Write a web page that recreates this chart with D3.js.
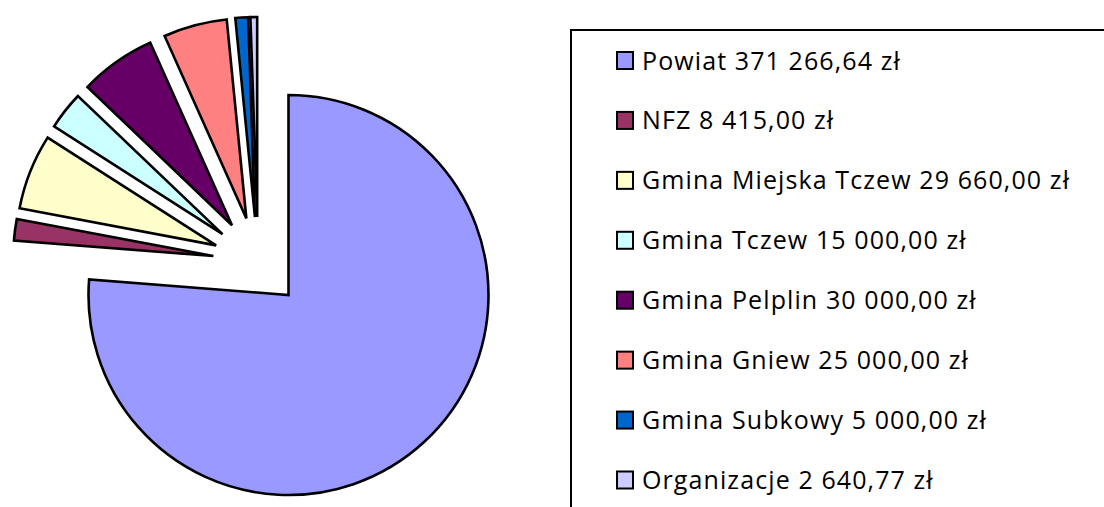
<!DOCTYPE html>
<html>
<head>
<meta charset="utf-8">
<script src="https://cdn.jsdelivr.net/npm/d3@7"></script>
<style>
  body { margin: 0; background: #fff; }
  svg { display: block; }
  .legend text { font-family: "Open Sans", Lato, sans-serif; font-size: 25px; letter-spacing: 1.1px; fill: #000; }
</style>
</head>
<body>
<svg id="chart" width="1104" height="507"></svg>
<script>
// data
const names = ["Powiat", "NFZ", "Gmina Miejska Tczew", "Gmina Tczew", "Gmina Pelplin", "Gmina Gniew", "Gmina Subkowy", "Organizacje"];
const values = [371266.64, 8415.00, 29660.00, 15000.00, 30000.00, 25000.00, 5000.00, 2640.77];
const colors = ["#9999FF", "#993366", "#FFFFCC", "#CCFFFF", "#660066", "#FF8080", "#0066CC", "#CCCCFF"];

const width = 1104, height = 507;
const cx = 288.5, cy = 295, radius = 200;
const explode = 45; // each small slice pulled out along its own bisector
const groupPull = 45; // and the small ones together along the group bisector

const svg = d3.select("#chart");

const fmt = v => {
    const [intPart, dec] = v.toFixed(2).split(".");
    return intPart.replace(/\B(?=(\d{3})+(?!\d))/g, " ") + "," + dec + " zł";
};

const pie = d3.pie().sort(null).value(d => d.value);
const arcs = pie(names.map((n, i) => ({ name: n, value: values[i], color: colors[i] })));
const arc = d3.arc().innerRadius(0).outerRadius(radius);

// the exploded group = everything except the first slice
const groupMid = (arcs[1].startAngle + arcs[arcs.length - 1].endAngle) / 2;
const dir = a => [Math.sin(a), -Math.cos(a)];

const pieG = svg.append("g").attr("transform", `translate(${cx},${cy})`);

pieG.selectAll("path")
    .data(arcs)
    .enter()
    .append("path")
    .attr("d", arc)
    .attr("transform", (d, i) => {
        if (i === 0) return null;
        const mid = (d.startAngle + d.endAngle) / 2;
        const [a, b] = dir(mid), [g, h] = dir(groupMid);
        return `translate(${a * explode + g * groupPull},${b * explode + h * groupPull})`;
    })
    .style("fill", d => d.data.color)
    .style("stroke", "#000")
    .style("stroke-width", 2.6)
    .style("stroke-linejoin", "miter");

// legend
const legend = svg.append("g").attr("class", "legend");
legend.append("rect")
    .attr("x", 571).attr("y", 30)
    .attr("width", 700).attr("height", 700)
    .style("fill", "#fff").style("stroke", "#000").style("stroke-width", 2);

const rowY = d3.scalePoint().domain(names).range([60.5, 480]);

const items = legend.selectAll("g.item")
    .data(arcs)
    .enter()
    .append("g")
    .attr("class", "item")
    .attr("transform", d => `translate(0,${rowY(d.data.name)})`);

items.append("rect")
    .attr("x", 617).attr("y", -8.5)
    .attr("width", 16).attr("height", 17)
    .style("fill", d => d.data.color)
    .style("stroke", "#000").style("stroke-width", 2);

items.append("text")
    .attr("x", 642).attr("y", 9)
    .text(d => `${d.data.name} ${fmt(d.data.value)}`);
</script>
</body>
</html>
